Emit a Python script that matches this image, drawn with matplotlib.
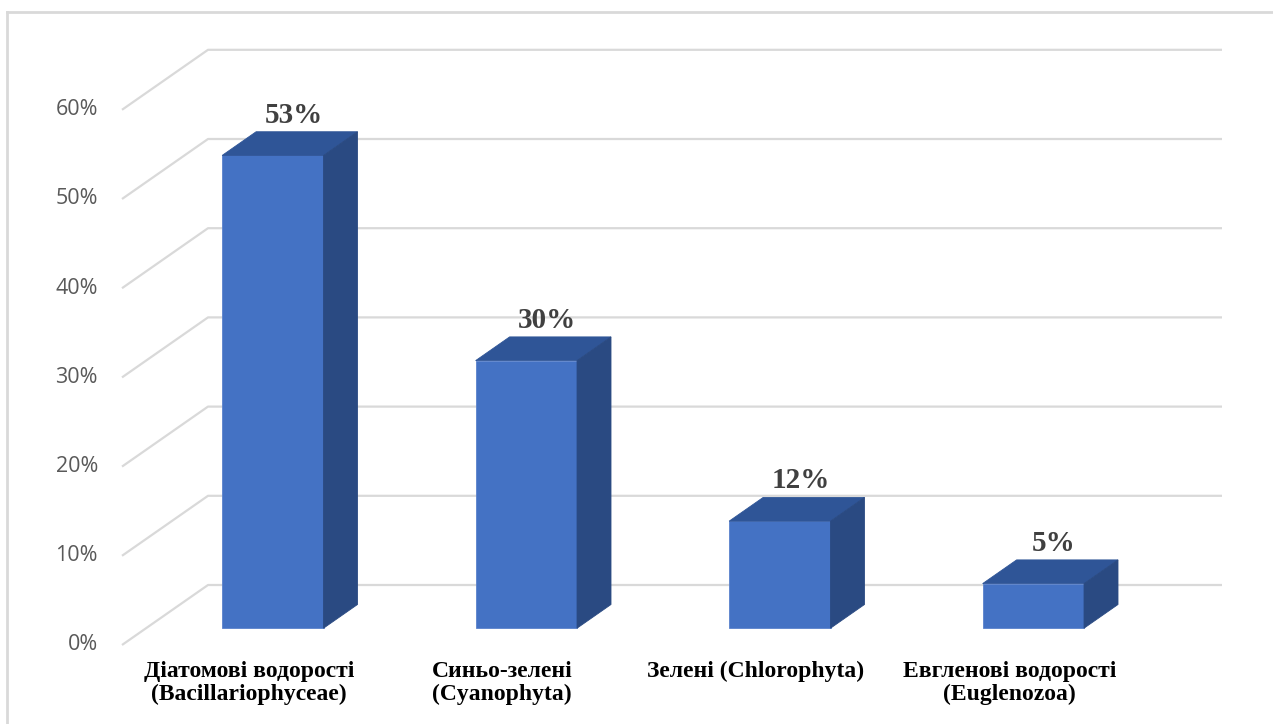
import numpy as np
import matplotlib
matplotlib.use("Agg")
from matplotlib import pyplot as plt
from matplotlib.patches import Polygon

# --- data -------------------------------------------------------------------
categories = [
    "Діатомові водорості\n(Bacillariophyceae)",
    "Синьо-зелені\n(Cyanophyta)",
    "Зелені (Chlorophyta)",
    "Евгленові водорості\n(Euglenozoa)",
]
shares = [53, 30, 12, 5]
y_ticks = [0, 10, 20, 30, 40, 50, 60]
tick_labels = ["0%", "10%", "20%", "30%", "40%", "50%", "60%"]

# --- fake 3d projection -------------------------------------------------------
PX_CAT = 253.5          # pixels per category
PX_PCT = 8.92           # pixels per percent
DX = 86 / PX_CAT        # full depth shift, x (category units)
DY = 60 / PX_PCT        # full depth shift, y (percent units)
T0, T1 = 0.28, 0.675    # bar depth, front and back
BAR_W = 0.4

front_c = "#4472C4"
top_c = "#2F5597"
side_c = "#2A4A82"
grid_c = "#D9D9D9"


def proj(x, y, t):
    return x + t * DX, y + t * DY


fig = plt.figure(figsize=(12.73, 7.24), dpi=100)
ax = fig.add_axes([0, 0, 1, 1])
ax.set_xlim(-0.5 - 122 / PX_CAT, -0.5 + (1273 - 122) / PX_CAT)
ax.set_ylim(-79 / PX_PCT, 645 / PX_PCT)
ax.axis("off")

# chart border (top and left only visible)
fig.add_artist(plt.Line2D([7 / 1273, 1], [1 - 12 / 724] * 2, color=grid_c, lw=2))
fig.add_artist(plt.Line2D([7 / 1273] * 2, [0, 1 - 12 / 724], color=grid_c, lw=2))

# gridlines: side wall + back wall
x_left, x_right = -0.5, len(categories) - 0.5
for v, lab in zip(y_ticks, tick_labels):
    bx, by = proj(x_left, v, 1)
    ax.plot([x_left, bx, x_right + DX], [v, by, by], color=grid_c, lw=1.6,
            zorder=1, solid_capstyle="butt")
    ax.annotate(lab, (x_left, v), xytext=(-24, 0), textcoords="offset pixels",
                ha="right", va="center", fontsize=15.5, color="#595959",
                family="Open Sans")

# bars
x = np.arange(len(categories))
fx, fy = proj(x, 0, T0)
ax.bar(fx, shares, width=BAR_W, bottom=fy, color=front_c, zorder=3,
       edgecolor="#5a82cc", linewidth=0.6)
for xi, v in zip(x, shares):
    l, r = xi - BAR_W / 2, xi + BAR_W / 2
    top = [proj(l, v, T0), proj(r, v, T0), proj(r, v, T1), proj(l, v, T1)]
    side = [proj(r, 0, T0), proj(r, v, T0), proj(r, v, T1), proj(r, 0, T1)]
    ax.add_patch(Polygon(top, closed=True, fc=top_c, ec=top_c, lw=0.6, zorder=3))
    ax.add_patch(Polygon(side, closed=True, fc=side_c, ec=side_c, lw=0.6, zorder=3))
    lx, _ = proj(xi, v, 0.52)
    _, by = proj(xi, v, T1)
    ax.annotate(f"{v}%", (lx, by), xytext=(0, 3), textcoords="offset pixels",
                ha="center", va="bottom", fontsize=21, fontweight="bold",
                color="#404040", family="Liberation Serif", zorder=4)

# category labels
for xi, name in zip(x, categories):
    ax.annotate(name, (xi, 0), xytext=(0, -16), textcoords="offset pixels",
                ha="center", va="top", fontsize=17, fontweight="bold",
                color="black", family="Liberation Serif", linespacing=1.12)

fig.savefig("out.png", dpi=100)
